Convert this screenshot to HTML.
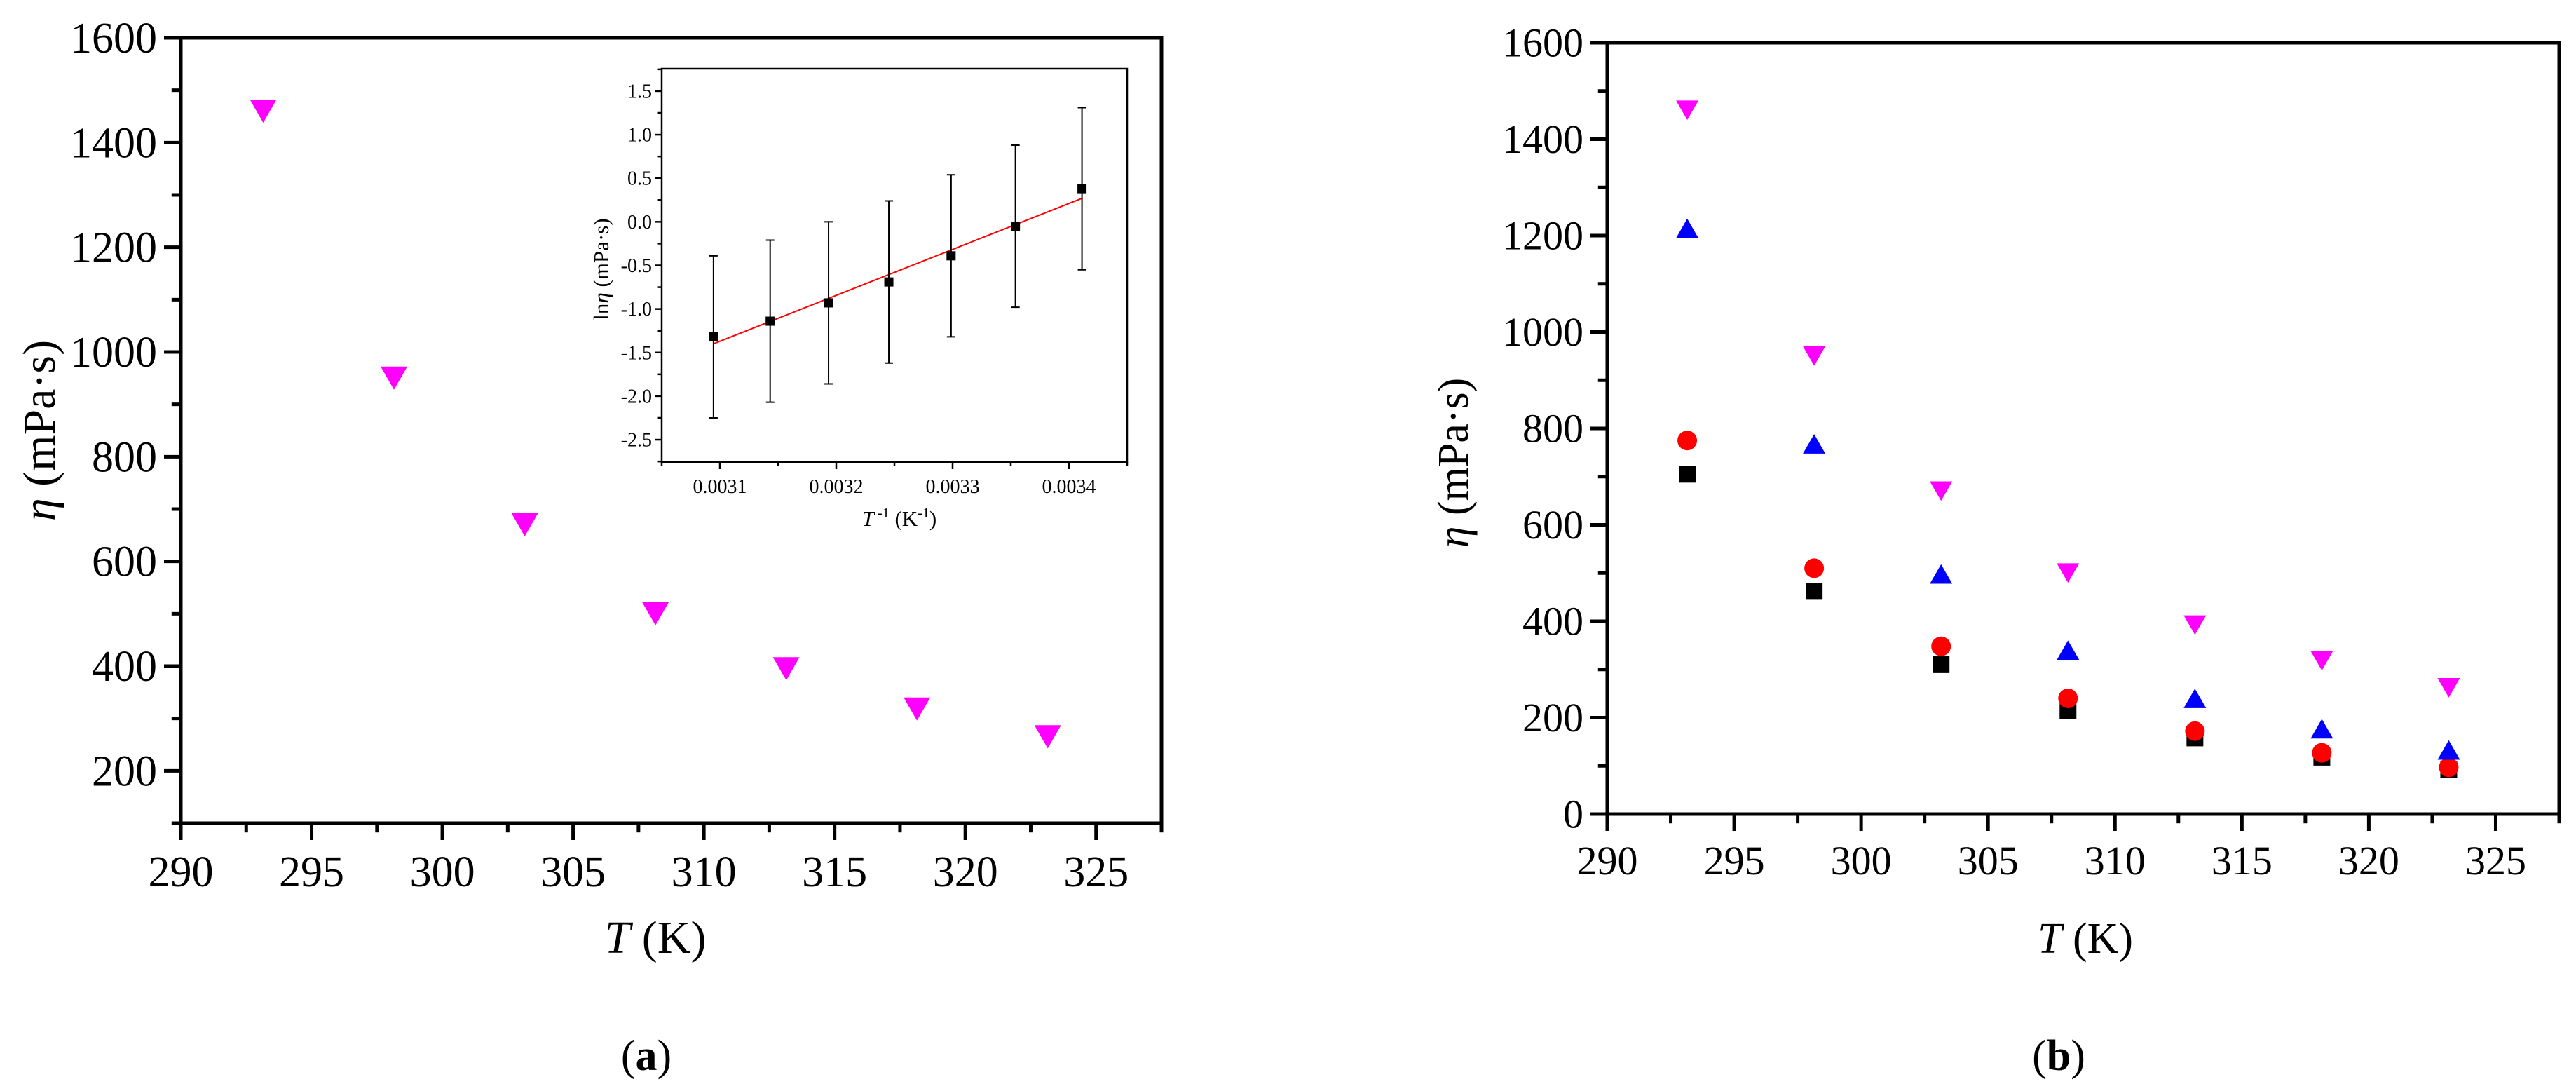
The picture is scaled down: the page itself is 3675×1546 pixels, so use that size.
<!DOCTYPE html>
<html><head><meta charset="utf-8"><style>
html,body{margin:0;padding:0;background:#fff}
svg{display:block}
text{font-family:"Liberation Serif","DejaVu Serif",serif;fill:#000}
</style></head><body>
<svg id="chart" width="3675" height="1546" viewBox="0 0 3675 1546" xmlns="http://www.w3.org/2000/svg">
<g id="pa"></g>
<g id="ins"></g>
<g id="pb"></g>
</svg>
<script>
const temps = [293.15, 298.15, 303.15, 308.15, 313.15, 318.15, 323.15];
const etaA = [1460, 950, 670, 500, 395, 318, 265];
const etaMagenta = [1460, 950, 670, 500, 392, 318, 262];
const etaBlue = [1215, 768, 498, 340, 240, 177, 133];
const etaRed = [775, 510, 348, 240, 172, 127, 97];
const etaBlack = [705, 462, 310, 215, 158, 118, 92];
const invT = [0.0030945, 0.0031432, 0.0031934, 0.0032452, 0.0032987, 0.003354, 0.0034112];
const lnEta = [-1.32, -1.14, -0.93, -0.69, -0.39, -0.05, 0.38];
const lnErr = [0.93, 0.93, 0.93, 0.93, 0.93, 0.93, 0.93];
const fitX = [0.0030945, 0.0034112];
const fitY = [-1.40, 0.27];
const xTicks = [290, 295, 300, 305, 310, 315, 320, 325];
const yTicksA = [200, 400, 600, 800, 1000, 1200, 1400, 1600];
const yTicksB = [0, 200, 400, 600, 800, 1000, 1200, 1400, 1600];
const insXTicks = [0.0031, 0.0032, 0.0033, 0.0034];
const insYTicks = [-2.5, -2.0, -1.5, -1.0, -0.5, 0.0, 0.5, 1.0, 1.5];

const NS = "http://www.w3.org/2000/svg";
function mk(parent, tag, attrs, txt) {
  const e = document.createElementNS(NS, tag);
  for (const k in attrs) e.setAttribute(k, attrs[k]);
  if (txt !== undefined) e.textContent = txt;
  parent.appendChild(e);
  return e;
}
function scale(d0, d1, r0, r1) { return v => r0 + (v - d0) / (d1 - d0) * (r1 - r0); }

function axes(g, o) {
  const X = o.X, Y = o.Y;
  const f = mk(g, 'rect', {x: o.L, y: o.T, width: o.R - o.L, height: o.B - o.T, fill: 'none', stroke: '#000', 'stroke-width': o.sw});
  
  
  o.xt.forEach(v => {
    const x = X(v);
    const t = mk(g, 'line', {x1: x, x2: x, y1: o.B, y2: o.B + o.tl, stroke: '#000', 'stroke-width': o.sw});
    
    
    const l = mk(g, 'text', {x: x, y: o.B + o.xlo, 'font-size': o.fs, 'text-anchor': 'middle'}, o.xf(v));
    
    
  });
  o.xm.forEach(v => {
    const x = X(v);
    const t = mk(g, 'line', {x1: x, x2: x, y1: o.B, y2: o.B + o.tl * 0.55, stroke: '#000', 'stroke-width': o.sw});
    
    
  });
  o.yt.forEach(v => {
    const y = Y(v);
    const t = mk(g, 'line', {x1: o.L - o.tl, x2: o.L, y1: y, y2: y, stroke: '#000', 'stroke-width': o.sw});
    
    
    const l = mk(g, 'text', {x: o.L - o.ylo, y: y + o.fs * 0.34, 'font-size': o.fs, 'text-anchor': 'end'}, o.yf(v));
    
    
  });
  o.ym.forEach(v => {
    const y = Y(v);
    const t = mk(g, 'line', {x1: o.L - o.tl * 0.55, x2: o.L, y1: y, y2: y, stroke: '#000', 'stroke-width': o.sw});
    
    
  });
}
function tri(g, x, y, s, down, color, name) {
  const h = s * 0.87;
  const p = down ? `${x - s / 2},${y - h / 2} ${x + s / 2},${y - h / 2} ${x},${y + h / 2}`
                 : `${x - s / 2},${y + h / 2} ${x + s / 2},${y + h / 2} ${x},${y - h / 2}`;
  const e = mk(g, 'polygon', {points: p, fill: color});
  
  
}

// Panel A
(function () {
  const g = document.getElementById('pa');
  const L = 258, R = 1657, T = 54, B = 1174;
  const X = scale(290, 327.5, L, R), Y = scale(100, 1600, B, T);
  axes(g, {X, Y, L, R, T, B, sw: 5, tl: 24, fs: 62, xlo: 90, ylo: 34,
    xt: xTicks, xm: [292.5, 297.5, 302.5, 307.5, 312.5, 317.5, 322.5, 327.5],
    yt: yTicksA, ym: [100, 300, 500, 700, 900, 1100, 1300, 1500],
    xf: v => v, yf: v => v});
  temps.forEach((t, i) => tri(g, X(t), Y(etaA[i]), 38, true, '#ff00ff', 'point-magenta'));
  const yt = mk(g, 'text', {x: 0, y: 0, 'font-size': 66, 'text-anchor': 'middle', transform: 'translate(78,614) rotate(-90)'});
  
  
  yt.innerHTML = '<tspan font-style="italic">η</tspan> (mPa·s)';
  const xt = mk(g, 'text', {x: 935, y: 1359, 'font-size': 66, 'text-anchor': 'middle'});
  
  
  xt.innerHTML = '<tspan font-style="italic">T</tspan> (K)';
  const cap = mk(g, 'text', {x: 922, y: 1526, 'font-size': 62, 'text-anchor': 'middle'});
  
  
  cap.innerHTML = '(<tspan font-weight="bold">a</tspan>)';
})();

// Inset
(function () {
  const g = document.getElementById('ins');
  const L = 944, R = 1608, T = 98, B = 659;
  const X = scale(0.00305, 0.00345, L, R), Y = scale(-2.757, 1.757, B, T);
  axes(g, {X, Y, L, R, T, B, sw: 2.5, tl: 10, fs: 28, xlo: 44, ylo: 14,
    xt: insXTicks, xm: [0.00305, 0.00315, 0.00325, 0.00335, 0.00345],
    yt: insYTicks, ym: [-2.75, -2.25, -1.75, -1.25, -0.75, -0.25, 0.25, 0.75, 1.25, 1.75],
    xf: v => v.toFixed(4), yf: v => v.toFixed(1)});
  const fl = mk(g, 'line', {x1: X(fitX[0]), y1: Y(fitY[0]), x2: X(fitX[1]), y2: Y(fitY[1]), stroke: '#ff0000', 'stroke-width': 2});
  
  
  invT.forEach((v, i) => {
    const x = X(v), y1 = Y(lnEta[i] + lnErr[i]), y2 = Y(lnEta[i] - lnErr[i]);
    const eb = mk(g, 'path', {d: `M${x},${y1}V${y2}M${x - 6},${y1}H${x + 6}M${x - 6},${y2}H${x + 6}`, stroke: '#000', 'stroke-width': 2, fill: 'none'});
    
    
    const s = mk(g, 'rect', {x: x - 6.5, y: Y(lnEta[i]) - 6.5, width: 13, height: 13, fill: '#000'});
    
    
  });
  const yt = mk(g, 'text', {x: 0, y: 0, 'font-size': 31, 'text-anchor': 'middle', transform: 'translate(868,384) rotate(-90)'});
  
  
  yt.innerHTML = 'ln<tspan font-style="italic">η</tspan> (mPa·s)';
  const xt = mk(g, 'text', {x: 1283, y: 750, 'font-size': 31, 'text-anchor': 'middle'});
  
  
  xt.innerHTML = '<tspan font-style="italic">T</tspan><tspan font-size="20" dy="-12"> -1</tspan><tspan dy="12"> (K</tspan><tspan font-size="20" dy="-12">-1</tspan><tspan dy="12">)</tspan>';
})();

// Panel B
(function () {
  const g = document.getElementById('pb');
  const L = 2293, R = 3651, T = 61, B = 1161;
  const X = scale(290, 327.5, L, R), Y = scale(0, 1600, B, T);
  axes(g, {X, Y, L, R, T, B, sw: 5, tl: 24, fs: 58, xlo: 86, ylo: 34,
    xt: xTicks, xm: [292.5, 297.5, 302.5, 307.5, 312.5, 317.5, 322.5, 327.5],
    yt: yTicksB, ym: [100, 300, 500, 700, 900, 1100, 1300, 1500],
    xf: v => v, yf: v => v});
  temps.forEach((t, i) => {
    const x = X(t);
    const s = mk(g, 'rect', {x: x - 12, y: Y(etaBlack[i]) - 12, width: 24, height: 24, fill: '#000'});
    
    
    const c = mk(g, 'circle', {cx: x, cy: Y(etaRed[i]), r: 14, fill: '#ff0000'});
    
    
    tri(g, x, Y(etaBlue[i]), 32, false, '#0000ff', 'point-blue-triangle');
    tri(g, x, Y(etaMagenta[i]), 32, true, '#ff00ff', 'point-magenta-triangle');
  });
  const yt = mk(g, 'text', {x: 0, y: 0, 'font-size': 62, 'text-anchor': 'middle', transform: 'translate(2094,660) rotate(-90)'});
  
  
  yt.innerHTML = '<tspan font-style="italic">η</tspan> (mPa·s)';
  const xt = mk(g, 'text', {x: 2975, y: 1359, 'font-size': 62, 'text-anchor': 'middle'});
  
  
  xt.innerHTML = '<tspan font-style="italic">T</tspan> (K)';
  const cap = mk(g, 'text', {x: 2937, y: 1526, 'font-size': 62, 'text-anchor': 'middle'});
  
  
  cap.innerHTML = '(<tspan font-weight="bold">b</tspan>)';
})();
</script>
</body></html>
